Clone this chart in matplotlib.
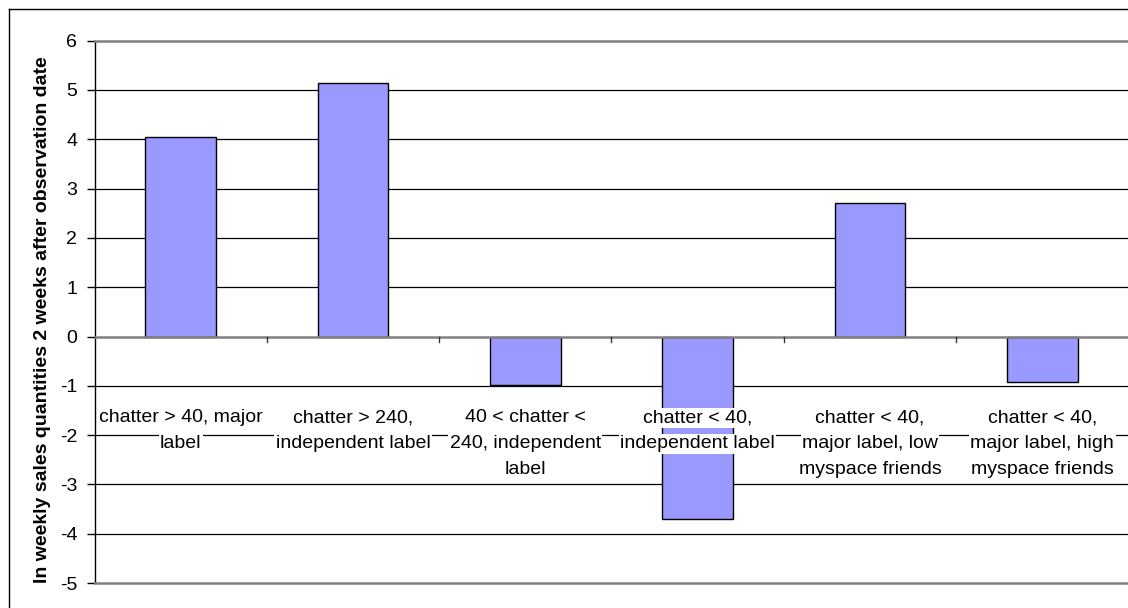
import matplotlib
matplotlib.use("Agg")
import matplotlib.pyplot as plt
from matplotlib import transforms
from matplotlib.lines import Line2D

categories = [
    ["chatter > 40, major", "label"],
    ["chatter > 240,", "independent label"],
    ["40 < chatter <", "240, independent", "label"],
    ["chatter < 40,", "independent label"],
    ["chatter < 40,", "major label, low", "myspace friends"],
    ["chatter < 40,", "major label, high", "myspace friends"],
]
values = [4.04, 5.15, -0.98, -3.70, 2.70, -0.92]
y_ticks = [-5, -4, -3, -2, -1, 0, 1, 2, 3, 4, 5, 6]
y_label = "In weekly sales quantities 2 weeks after observation date"

W, H = 1128, 608
plt.rcParams['font.family'] = ['Liberation Sans', 'DejaVu Sans']
fig = plt.figure(figsize=(W / 100, H / 100), dpi=100)

ax = fig.add_axes([94.5 / W, 1 - 583 / H, (1128.5 - 94.5) / W, (583 - 40.7) / H])

n = len(values)
xs = list(range(n))
ax.bar(xs, values, width=0.41, color='#9999FF', edgecolor='black', linewidth=1.0, zorder=3)

ax.set_xlim(-0.5, n - 0.5)
ax.set_ylim(min(y_ticks), max(y_ticks))
ax.set_yticks(y_ticks)
ax.set_yticklabels([str(t) for t in y_ticks], fontsize=14)
ax.tick_params(axis='y', direction='out', length=6, width=1, pad=6.5, colors='black')

# gridlines
for t in y_ticks:
    if t in (0, min(y_ticks), max(y_ticks)):
        continue
    ax.axhline(t, color='black', linewidth=0.9, zorder=1)

# spines
ax.spines['left'].set_color('black')
ax.spines['left'].set_linewidth(1.0)
ax.spines['right'].set_visible(False)
ax.spines['top'].set_color('#808080')
ax.spines['top'].set_linewidth(1.8)
ax.spines['bottom'].set_color('#808080')
ax.spines['bottom'].set_linewidth(1.8)

# x axis line at zero with category boundary ticks
ax.axhline(0, color='#808080', linewidth=1.8, zorder=4)
ax.set_xticks([])
for i in range(n - 1):
    ax.plot([i + 0.5, i + 0.5], [0, -0.12], color='#333333', linewidth=1.0, zorder=4, clip_on=False)

# y label
fig.text(43 / W, 1 - 320 / H, y_label, rotation=90, ha='center', va='center',
         fontsize=14, fontweight='bold')

# category labels
trans = transforms.blended_transform_factory(ax.transData, fig.transFigure)
line_y = [418, 444, 470]
for i, lines in enumerate(categories):
    for j, txt in enumerate(lines):
        ax.text(i, 1 - line_y[j] / H, txt, transform=trans, ha='center', va='center',
                fontsize=14, zorder=5,
                bbox=dict(facecolor='white', edgecolor='none', pad=1.0))

# outer border
fig.add_artist(Line2D([9 / W, 1.0], [1 - 9 / H, 1 - 9 / H], transform=fig.transFigure, color='black', linewidth=1.0))
fig.add_artist(Line2D([9 / W, 9 / W], [1 - 9 / H, 0.0], transform=fig.transFigure, color='black', linewidth=1.0))

fig.savefig("out.png", dpi=100)
